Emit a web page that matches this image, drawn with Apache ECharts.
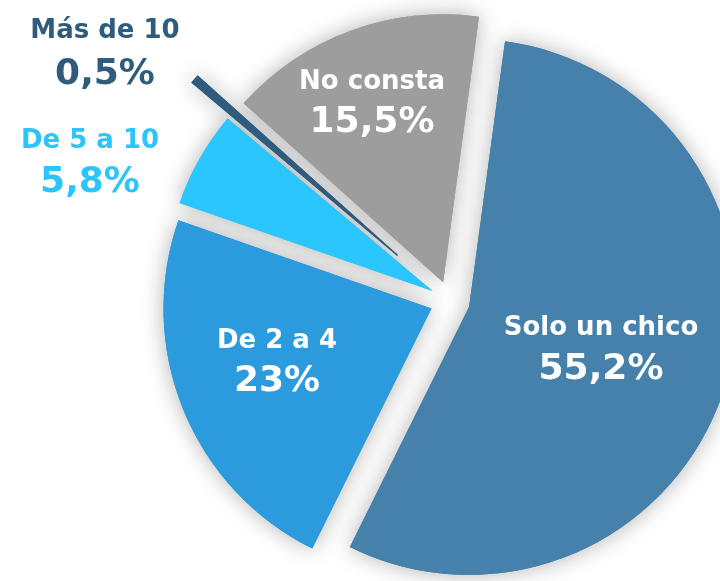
<!DOCTYPE html>
<html>
<head>
<meta charset="utf-8">
<script src="https://cdn.jsdelivr.net/npm/echarts@6/dist/echarts.min.js"></script>
<style>
    html, body { margin: 0; padding: 0; background: #fff; }
    #chart { width: 720px; height: 581px; }
</style>
</head>
<body>
<div id="chart"></div>
<script>
    const categories = ['Solo un chico', 'De 2 a 4', 'De 5 a 10', 'Más de 10', 'No consta'];
    const values = [55.2, 23, 5.8, 0.5, 15.5];
    const percentLabels = ['55,2%', '23%', '5,8%', '0,5%', '15,5%'];

    const sliceColors = ['#4581ab', '#2b9bdd', '#2bc6fe', '#2f5c7e', '#9d9d9d'];
    // where each label sits (name line, percent line)
    const labelPos = [
        {x: 601, y1: 328, y2: 370, color: '#ffffff'},
        {x: 277, y1: 341, y2: 382, color: '#ffffff'},
        {x: 90, y1: 141, y2: 183, color: '#2bc4fb'},
        {x: 105, y1: 31, y2: 75, color: '#2f5b7c'},
        {x: 372, y1: 82, y2: 123, color: '#ffffff'}
    ];
    const farSlice = 3; // the thin one is pulled out further

    function buildData(showIdx, shadow) {
        return categories.map((name, i) => {
            const on = showIdx(i);
            let style = {color: 'rgba(0,0,0,0)'};
            if (on) {
                style = {
                    color: sliceColors[i],
                    shadowBlur: shadow ? 22 : 0,
                    shadowColor: shadow ? 'rgba(0,0,0,0.3)' : 'transparent'
                };
                if (i === farSlice) {
                    style.borderColor = sliceColors[i];
                    style.borderWidth = 1.2;
                }
            }
            return {name: name, value: values[i], selected: true, itemStyle: style};
        });
    }

    function pie(offset, data, z) {
        return {
            type: 'pie',
            center: [450, 301],
            radius: 268,
            startAngle: 82.3,
            clockwise: true,
            selectedMode: 'multiple',
            selectedOffset: offset,
            silent: true,
            z: z,
            label: {show: false},
            labelLine: {show: false},
            emphasis: {disabled: true},
            itemStyle: {borderWidth: 0},
            data: data
        };
    }

    const texts = [];
    labelPos.forEach((p, i) => {
        texts.push({
            type: 'text', x: p.x, y: p.y1, z: 100,
            style: {text: categories[i], font: 'bold 26px "DejaVu Sans"', fill: p.color, align: 'center', verticalAlign: 'middle'}
        });
        texts.push({
            type: 'text', x: p.x, y: p.y2, z: 100,
            style: {text: percentLabels[i], font: 'bold 36px "DejaVu Sans"', fill: p.color, align: 'center', verticalAlign: 'middle'}
        });
    });

    const option = {
        animation: false,
        backgroundColor: '#ffffff',
        graphic: texts,
        series: [
            pie(20, buildData(i => i !== farSlice, true), 1),
            pie(70, buildData(i => i === farSlice, true), 1),
            pie(20, buildData(i => i !== farSlice, false), 2),
            pie(70, buildData(i => i === farSlice, false), 3)
        ]
    };

    const myChart = echarts.init(document.getElementById('chart'));
    myChart.setOption(option);
</script>
</body>
</html>
